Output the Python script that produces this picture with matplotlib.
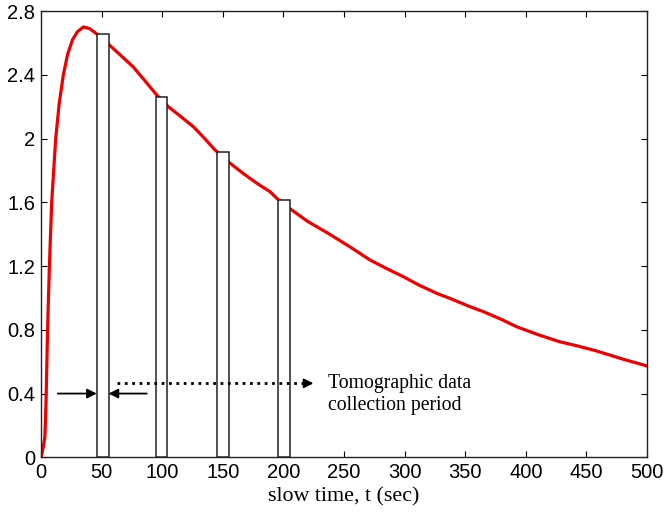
import matplotlib
matplotlib.use('Agg')
import matplotlib.pyplot as plt

# red response curve
t = [0, 2, 3.2, 4.1, 5.4, 6.9, 8.8, 12.1, 15, 18.4, 22, 26, 30, 35, 40, 44.5,
     50, 56.4, 66, 76, 86, 95.5, 105, 115, 125.7, 135, 143.6, 156, 167, 178,
     189, 194.5, 205.4, 220, 237, 255, 271.5, 285, 299, 312, 326.5, 337.5,
     354, 365, 380, 392.5, 410, 428, 442, 455.7, 468, 480.5, 490, 500]
v = [0, 0.07, 0.13, 0.34, 0.8, 1.2, 1.6, 2.0, 2.22, 2.4, 2.53, 2.62, 2.67,
     2.70, 2.69, 2.665, 2.63, 2.587, 2.52, 2.45, 2.36, 2.273, 2.2, 2.14,
     2.074, 2.0, 1.928, 1.845, 1.78, 1.72, 1.666, 1.625, 1.56, 1.48, 1.405,
     1.32, 1.238, 1.185, 1.133, 1.08, 1.029, 0.997, 0.945, 0.914, 0.865,
     0.819, 0.77, 0.725, 0.70, 0.673, 0.645, 0.615, 0.595, 0.573]

# tomographic data collection windows
bar_left = [46, 94.5, 145, 195.5]
bar_width = 9.7
bar_height = [2.655, 2.262, 1.917, 1.614]

xticks = [0, 50, 100, 150, 200, 250, 300, 350, 400, 450, 500]
yticks = [0, 0.4, 0.8, 1.2, 1.6, 2, 2.4, 2.8]
ytick_labels = ['0', '0.4', '0.8', '1.2', '1.6', '2', '2.4', '2.8']

fig = plt.figure(figsize=(6.65, 5.12), dpi=100)
ax = fig.add_axes([0.0617, 0.1068, 0.9113, 0.8717])

ax.plot(t, v, color='#ee0000', lw=2.3, zorder=2)
ax.bar(bar_left, bar_height, width=bar_width, align='edge',
       facecolor='white', edgecolor='#222222', lw=1.1, zorder=3)

# width arrows around the first window
arr = dict(arrowstyle='-|>', color='black', lw=1.3, mutation_scale=14,
           shrinkA=0, shrinkB=0)
ax.annotate('', xy=(46, 0.40), xytext=(13.8, 0.40), arrowprops=arr, zorder=4)
ax.annotate('', xy=(55.7, 0.40), xytext=(87.2, 0.40), arrowprops=arr, zorder=4)

# dotted pointer to the label
ax.plot([62.5, 218], [0.464, 0.464], color='black', ls=':', lw=2.0, zorder=4)
ax.annotate('', xy=(224.7, 0.464), xytext=(216, 0.464), arrowprops=arr, zorder=4)

ax.text(237, 0.395, 'Tomographic data\ncollection period', family='Liberation Serif',
        fontsize=14.2, ha='left', va='center', linespacing=1.25)

ax.set_xlim(0, 500)
ax.set_ylim(0, 2.8)
ax.set_xticks(xticks)
ax.set_yticks(yticks)
ax.set_yticklabels(ytick_labels)
ax.tick_params(direction='in', length=4.5, width=0.8, top=True, right=True,
               labelsize=14.5, pad=4)
for lab in ax.get_xticklabels() + ax.get_yticklabels():
    lab.set_family('Liberation Sans')
for s in ax.spines.values():
    s.set_linewidth(1.0)
    s.set_color('#222222')

ax.set_xlabel('slow time, t (sec)', family='Liberation Serif', fontsize=15.8, labelpad=4)

fig.savefig('out.png', dpi=100)
